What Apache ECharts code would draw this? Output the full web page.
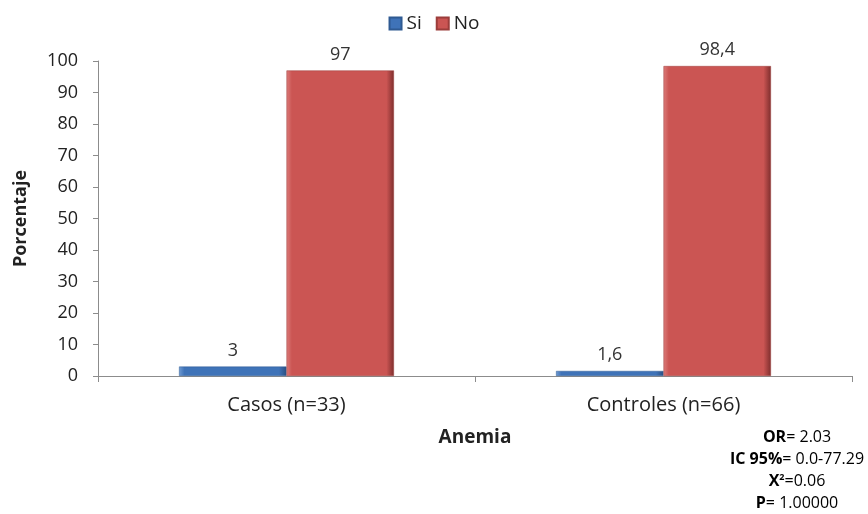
<!DOCTYPE html>
<html>
<head>
<meta charset="utf-8">
<script src="https://cdn.jsdelivr.net/npm/echarts@6/dist/echarts.min.js"></script>
<style>
  html, body { margin: 0; padding: 0; background: #fff; }
  #chart { width: 868px; height: 514px; }
</style>
</head>
<body>
<div id="chart"></div>
<script>
// Anemia: percentage of cases and controls
const categories = ['Casos (n=33)', 'Controles (n=66)'];
const siValues = [3, 1.6];
const noValues = [97, 98.4];
const yTicks = [0, 10, 20, 30, 40, 50, 60, 70, 80, 90, 100];
const statLines = [
  ['OR', '', '= 2.03'],
  ['IC 95%', '', '= 0.0-77.29'],
  ['X', '2', '=0.06'],
  ['P', '', '= 1.00000']
];

const FONT = '"Open Sans", "Liberation Sans", sans-serif';
const TEXT = '#222';

function bevel(base, light, dark) {
  return new echarts.graphic.LinearGradient(0, 0, 1, 0, [
    { offset: 0, color: light },
    { offset: 0.05, color: base },
    { offset: 0.93, color: base },
    { offset: 1, color: dark }
  ]);
}

const fmt = p => String(p.value).replace('.', ',');

const statText = statLines
  .map(([k, sup, v]) => '{b|' + k + '}' + (sup ? '{s|' + sup + '}' : '') + '{n|' + v + '}')
  .join('\n');

const chart = echarts.init(document.getElementById('chart'));
chart.setOption({
  animation: false,
  textStyle: { fontFamily: FONT },
  legend: {
    top: 9,
    left: 'center',
    icon: 'rect',
    itemWidth: 12,
    itemHeight: 12,
    itemGap: 14,
    textStyle: { fontSize: 19, color: TEXT, fontFamily: FONT },
    data: ['Si', 'No']
  },
  grid: { left: 98, right: 16, top: 61, bottom: 138 },
  xAxis: {
    type: 'category',
    data: categories,
    name: 'Anemia',
    nameLocation: 'middle',
    nameGap: 52,
    nameTextStyle: { fontSize: 19, fontWeight: 'bold', color: TEXT, fontFamily: FONT },
    axisLine: { lineStyle: { color: '#8c8c8c' } },
    axisTick: { show: true, length: 6, lineStyle: { color: '#8c8c8c' } },
    axisLabel: { fontSize: 20, color: TEXT, margin: 19, fontFamily: FONT }
  },
  yAxis: {
    type: 'value',
    min: yTicks[0],
    max: yTicks[yTicks.length - 1],
    interval: 10,
    name: 'Porcentaje',
    nameLocation: 'middle',
    nameGap: 68,
    nameTextStyle: { fontSize: 18, fontWeight: 'bold', color: TEXT, fontFamily: FONT },
    axisLine: { show: true, lineStyle: { color: '#8c8c8c' } },
    axisTick: { show: true, length: 5, lineStyle: { color: '#8c8c8c' } },
    axisLabel: { fontSize: 18, color: TEXT, margin: 20, fontFamily: FONT },
    splitLine: { show: false }
  },
  series: [
    {
      name: 'Si',
      type: 'bar',
      data: siValues,
      barGap: '0%',
      barCategoryGap: '43%',
      itemStyle: {
        color: bevel('#3F73B8', '#6F9AD2', '#2A4F80'),
        borderColor: '#2f5a92',
        borderWidth: 0.5
      },
      label: {
        show: true, position: 'top', distance: 7,
        fontSize: 18, color: '#333', fontFamily: FONT, formatter: fmt
      }
    },
    {
      name: 'No',
      type: 'bar',
      data: noValues,
      itemStyle: {
        color: bevel('#CB5553', '#DC7C7A', '#7E2E2D'),
        borderColor: '#9c3d3b',
        borderWidth: 0.5
      },
      label: {
        show: true, position: 'top', distance: 7,
        fontSize: 18, color: '#333', fontFamily: FONT, formatter: fmt
      }
    }
  ],
  graphic: [
    {
      type: 'text',
      x: 797,
      y: 426,
      style: {
        text: statText,
        align: 'center',
        verticalAlign: 'top',
        lineHeight: 22,
        rich: {
          b: { fontWeight: 'bold', fontSize: 16, color: TEXT, fontFamily: FONT, lineHeight: 22 },
          n: { fontSize: 16, color: TEXT, fontFamily: FONT, lineHeight: 22 },
          s: { fontWeight: 'bold', fontSize: 9, color: TEXT, fontFamily: FONT, lineHeight: 22, padding: [0, 0, 8, 0] }
        }
      }
    }
  ]
});
</script>
</body>
</html>
